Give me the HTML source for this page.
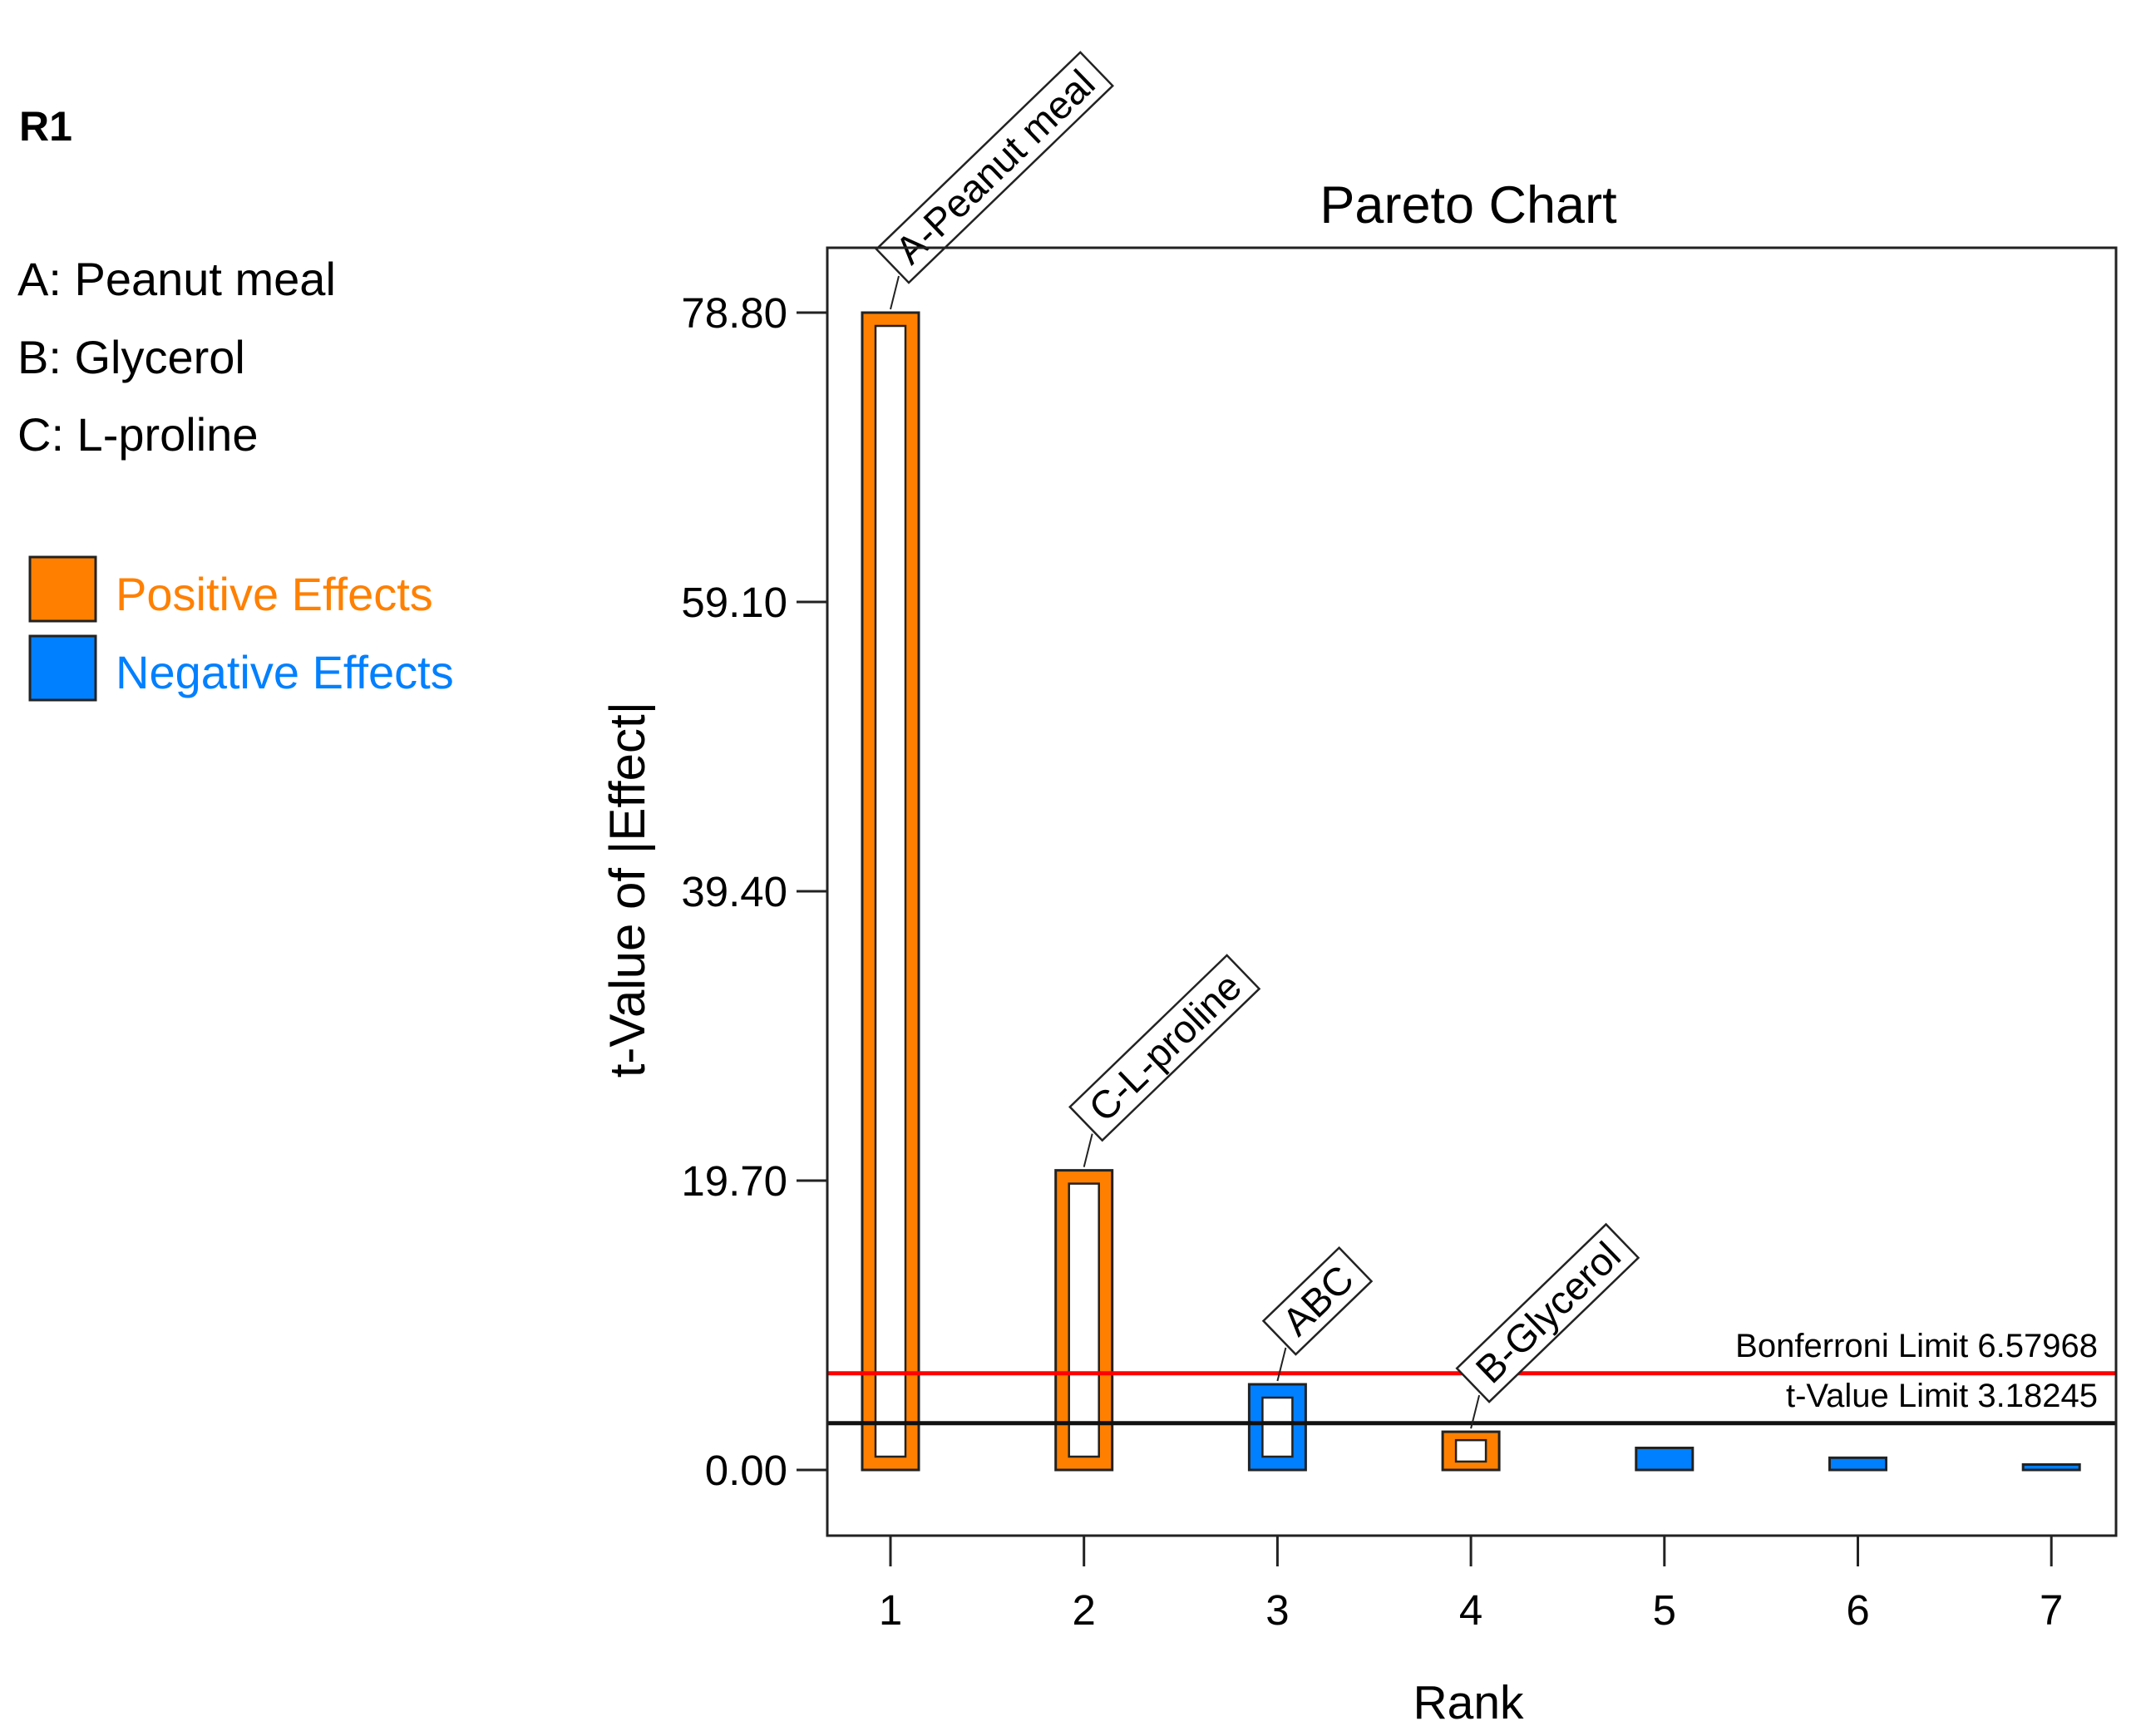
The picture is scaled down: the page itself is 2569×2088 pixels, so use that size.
<!DOCTYPE html>
<html><head><meta charset="utf-8"><style>
html,body{margin:0;padding:0;background:#fff}
svg{display:block}
text{font-family:"Liberation Sans",sans-serif}
</style></head><body>
<svg id="chart" width="2569" height="2088" viewBox="0 0 2569 2088" xmlns="http://www.w3.org/2000/svg">
<text x="23" y="169" font-size="50" font-weight="bold">R1</text>
<text x="21" y="355" font-size="56">A: Peanut meal</text>
<text x="21" y="449" font-size="56">B: Glycerol</text>
<text x="21" y="542" font-size="56">C: L-proline</text>
<rect x="36" y="670" width="79" height="77" fill="#ff8000" stroke="#222" stroke-width="3"/>
<text x="139" y="734" font-size="56" fill="#ff8000">Positive Effects</text>
<rect x="36" y="765" width="79" height="77" fill="#0080ff" stroke="#222" stroke-width="3"/>
<text x="139" y="828" font-size="56" fill="#0080ff">Negative Effects</text>
<text x="1766" y="268" font-size="63" text-anchor="middle">Pareto Chart</text>
<text x="1766" y="2067" font-size="57" text-anchor="middle">Rank</text>
<text transform="translate(775,1070) rotate(-90)" font-size="60" text-anchor="middle">t-Value of |Effect|</text>
<g id="plot"></g>
<rect x="995" y="298" width="1550" height="1549" fill="none" stroke="#222" stroke-width="3"/>
</svg>
<script>
const ranks = [1,2,3,4,5,6,7];
const values = [78.8, 20.4, 5.83, 2.6, 1.5, 0.83, 0.37];
const signs = ["pos","pos","neg","pos","neg","neg","neg"];
const labels = ["A-Peanut meal","C-L-proline","ABC","B-Glycerol","","",""];
const yTicks = [0, 19.7, 39.4, 59.1, 78.8];
const yTickLabels = ["0.00","19.70","39.40","59.10","78.80"];
const bonferroni = 6.57968;
const tLimit = 3.18245;

const NS="http://www.w3.org/2000/svg";
const g=document.getElementById('plot');
const y0=1768, y1=376;
function yS(v){return y0-(v/78.8)*(y0-y1);}
function xS(r){return 1071+(r-1)*232.7;}
function mk(tag,attrs,parent){const e=document.createElementNS(NS,tag);for(const k in attrs)e.setAttribute(k,attrs[k]);(parent||g).appendChild(e);return e;}

yTicks.forEach((v,i)=>{
  const y=yS(v);
  const t=mk('line',{x1:958,x2:995,y1:y,y2:y,stroke:'#222','stroke-width':3});
  
  
  const l=mk('text',{x:947,y:y+18,'font-size':51,'text-anchor':'end'});
  l.textContent=yTickLabels[i];
  
  
});
ranks.forEach(r=>{
  const x=xS(r);
  const t=mk('line',{x1:x,x2:x,y1:1847,y2:1884,stroke:'#222','stroke-width':3});
  
  
  const l=mk('text',{x:x,y:1954,'font-size':51,'text-anchor':'middle'});
  l.textContent=String(r);
  
  
});

ranks.forEach((r,i)=>{
  const x=xS(r), top=yS(values[i]), w=68, h=y0-top;
  const col=signs[i]==='pos'?'#ff8000':'#0080ff';
  const b=mk('rect',{x:x-w/2,y:top,width:w,height:h,fill:col,stroke:'#222','stroke-width':3});
  
  
  if(labels[i]){
    const ih=Math.min(16,h*0.22);
    const inner=mk('rect',{x:x-w/2+16,y:top+ih,width:w-32,height:h-2*ih,fill:'#fff',stroke:'#222','stroke-width':2.5});
    
    
  }
});

const bl=mk('line',{x1:995,x2:2545,y1:yS(bonferroni),y2:yS(bonferroni),stroke:'#ff0000','stroke-width':5});


const tl=mk('line',{x1:995,x2:2545,y1:yS(tLimit),y2:yS(tLimit),stroke:'#111','stroke-width':5});


const bt=mk('text',{x:2523,y:yS(bonferroni)-20,'font-size':40,'text-anchor':'end'});
bt.textContent='Bonferroni Limit '+bonferroni.toFixed(5);


const tt=mk('text',{x:2523,y:yS(tLimit)-20,'font-size':40,'text-anchor':'end'});
tt.textContent='t-Value Limit '+tLimit.toFixed(5);



ranks.forEach((r,i)=>{
  if(!labels[i])return;
  const x=xS(r), top=yS(values[i]);
  const ax=x+22, ay=top-36;
  const ld=mk('line',{x1:x,y1:top-4,x2:x+10,y2:ay-8,stroke:'#222','stroke-width':2});
  
  
  const grp=mk('g',{transform:`translate(${ax},${ay}) rotate(-44)`});
  
  
  const tx=mk('text',{x:16,y:-12,'font-size':47},grp);
  tx.textContent=labels[i];
  const tw=tx.getComputedTextLength();
  const rc=mk('rect',{x:0,y:-56,width:tw+30,height:56,fill:'#fff',stroke:'#222','stroke-width':2.5},grp);
  grp.insertBefore(rc,tx);
});
</script>
</body></html>
